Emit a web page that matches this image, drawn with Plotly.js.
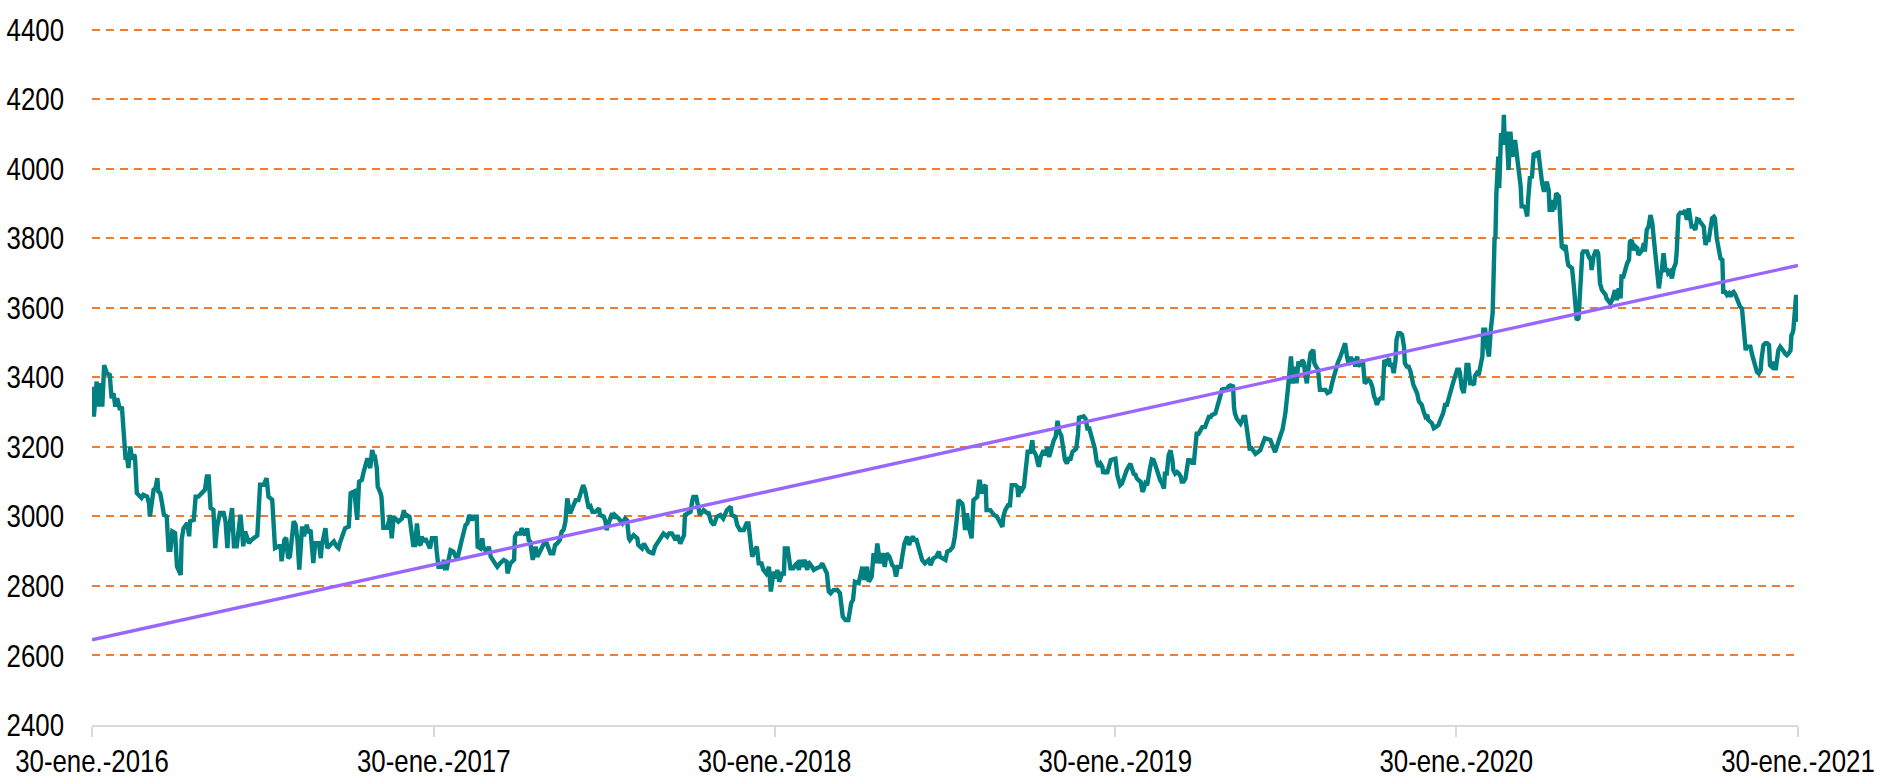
<!DOCTYPE html>
<html>
<head>
<meta charset="utf-8">
<script src="https://cdn.plot.ly/plotly-3.0.1.min.js"></script>
<style>
  html, body { margin: 0; padding: 0; background: #ffffff; }
  #chart { width: 1877px; height: 779px; }
</style>
</head>
<body>
<div id="chart"></div>
<script>
// ---- DATA ----
const startDate = '2016-01-30';
// days elapsed since startDate for each observation
const dayOffsets = [
0,2,5,7,9,11,13,16,19,21,23,25,27,30,32,34,36,37,39,41,43,45,46,48,50,53,55,59,61,62,64,66,68,70,71,73,75,77,80,82,84,86,89,91,95,96,98,102,104,105,109,111,114,118,121,123,125,127,130,132,134,137,141,143,145,146,150,152,155,159,161,162,164,168,171,175,177,180,184,187,189,193,195,196,200,202,203,206,208,210,212,216,218,220,222,225,227,230,232,234,237,239,243,245,246,250,252,255,259,262,264,266,268,271,275,277,281,284,286,289,291,294,295,298,300,302,303,305,306,309,
310,312,316,318,319,321,323,326,328,332,334,335,337,340,343,344,346,348,350,352,353,355,357,360,362,364,368,369,371,375,377,378,380,384,387,391,393,396,400,402,404,407,409,412,413,416,418,419,423,425,427,430,434,437,441,444,445,448,452,453,455,459,460,464,466,468,469,472,475,477,480,484,487,491,494,496,498,501,503,505,507,509,512,515,518,521,524,526,528,532,534,536,539,543,544,548,550,551,555,557,559,560,564,566,568,571,573,575,576,580,584,585,589,591,593,596,600,601,603,605,609,612,616,
618,621,625,627,630,634,635,638,641,643,644,647,650,651,655,659,660,663,666,669,673,676,680,684,685,689,691,694,698,701,703,705,707,709,712,714,717,719,722,725,727,730,732,734,736,739,741,742,745,748,751,753,755,757,759,761,763,766,767,771,773,776,780,782,784,787,789,791,794,798,801,804,807,810,813,815,817,821,825,827,830,832,835,837,839,841,844,846,849,851,854,857,859,861,863,866,868,870,873,875,877,879,881,883,886,889,892,896,898,901,904,907,908,911,914,916,919,922,924,926,928,
932,933,935,937,939,941,942,944,948,950,951,953,955,957,958,962,966,969,971,973,975,976,978,981,983,985,989,991,992,994,996,998,1001,1002,1005,1007,1008,1011,1013,1014,1016,1017,1019,1021,1023,1025,1026,1028,1030,1032,1034,1036,1038,1040,1042,1044,1046,1048,1050,1052,1054,1056,1057,1060,1062,1064,1066,1068,1071,1073,1074,1076,1078,1080,1082,1083,1085,1087,1089,1091,1093,1096,1098,1100,1101,1103,1105,1107,1108,1112,1114,1116,1117,1119,1121,1123,1125,1126,1128,1130,1133,1135,1137,1139,1141,1142,1144,1146,1148,1149,1151,1153,1155,1157,1158,1160,1162,1164,1166,1167,1169,1171,1173,1174,1176,1178,1180,1182,1183,1185,1187,1189,1191,1192,1194,1196,1198,1199,1203,1205,1207,1208,1210,1212,1216,1217,1219,1222,1223,1224,1226,1228,1230,1232,1233,1235,1237,1239,1240,
1241,1246,1251,1256,1262,1267,1273,1275,1278,1280,1281,1284,1286,1289,1290,1292,1294,1296,1298,1299,1301,1303,1305,1308,1309,1311,1313,1315,1317,1321,1323,1326,1328,1330,1333,1334,1337,1340,1342,1344,1346,1348,1349,1351,1353,1355,1356,1358,1361,1363,1365,1367,1369,1371,1373,1374,1376,1378,1380,1382,1384,1386,1389,1390,1392,1394,1396,1397,1399,1401,1403,1405,1406,1408,1410,1412,1415,1419,1421,1423,1424,1426,1428,1430,1431,1435,1437,1440,1442,1444,1447,1449,1451,1453,1455,1456,1458,1460,1462,1464,1465,1467,1469,1471,1472,1474,1476,1478,1480,1481,1483,1485,1487,1489,1490,1492,1494,1496,1498,1499,1500,1502,1503,1504,1505,1506,1507,1509,1511,1512,1513,1515,1517,1519,1521,1522,1524,1526,1528,1530,1531,1533,1535,1537,1538,1540,1542,1544,1546,1547,1549,1551,
1553,1555,1556,1558,1560,1561,1564,1565,1566,1568,1571,1572,1574,1576,1578,1580,1581,1583,1585,1587,1589,1590,1592,1594,1596,1597,1601,1603,1605,1606,1608,1610,1612,1613,1615,1617,1619,1621,1622,1624,1626,1628,1630,1631,1633,1635,1637,1638,1640,1642,1644,1646,1647,1649,1651,1653,1655,1656,1658,1660,1662,1663,1665,1667,1669,1671,1672,1674,1676,1678,1680,1681,1683,1685,1687,1688,1690,1692,1694,1696,1697,1699,1701,1705,1706,1708,1710,1712,1713,1715,1717,1719,1721,1722,1724,1726,1728,1730,1731,1733,1735,1737,1738,1740,1742,1744,1746,1747,1749,1751,1753,1755,1756,1758,1760,1762,1763,1765,1767,1769,1771,1772,1774,1776,1778,1780,1781,1783,1785,1787,1788,1790,1792,1794,1796,1797,1799,1801,1803,1804,1806,1808,1810,1812,1813,1815,1817,1819,1820,1821,1822,1823,1825,1826,1827
];
// USD/COP exchange rate
const rateValues = [
3373,3287,3388,3316,3383,3316,3435,3411,3407,3340,3354,3316,3340,3306,3316,3220,3163,3182,3139,3201,3163,3177,3172,3067,3062,3053,3062,3057,3038,3000,3038,3077,3081,3110,3072,3067,3038,3005,3000,2904,2904,2957,2952,2856,2832,2933,2966,2981,2943,2986,2990,3057,3057,3067,3077,3115,3115,3024,3019,2909,2971,3010,3010,2986,2909,2952,3024,2914,2914,3005,2952,2914,2957,2923,2933,2943,2945,3091,3091,3110,3057,3048,2962,2909,2914,2914,2871,2933,2938,2880,2885,2986,2976,2933,2847,2971,2943,2976,2952,2962,2866,2923,2923,2880,2914,2966,2909,2919,2928,2914,2909,2928,2943,2966,2971,3067,3072,2990,3100,3105,3129,3153,3167,3139,3191,3172,3172,3139,3086,3067,
3056,2967,2967,2985,3004,2937,2999,2991,2985,2994,3018,2999,3004,2999,2942,2918,2918,2980,2922,2918,2942,2927,2937,2922,2908,2937,2937,2903,2855,2855,2875,2851,2851,2903,2899,2875,2894,2932,2975,2980,3004,2989,2999,2999,2913,2908,2937,2913,2894,2913,2884,2870,2855,2865,2875,2870,2836,2865,2875,2942,2951,2951,2966,2946,2966,2927,2932,2875,2913,2884,2899,2922,2922,2894,2894,2918,2922,2932,2956,2961,2985,3052,3009,3028,3047,3047,3080,3090,3076,3023,3028,3013,3013,3023,3004,3000,2985,2961,2994,3009,2994,3004,2994,2989,2980,2994,2989,2937,2932,2946,2937,2918,2908,2922,2913,2899,2894,2894,2913,2922,2942,2951,2942,
2951,2951,2932,2946,2922,2946,3004,3009,3013,3047,3056,3056,3018,3004,3018,3009,3013,2985,2975,2999,3004,2994,3018,3028,3004,2999,2975,2961,2961,2980,2980,2927,2884,2899,2913,2865,2865,2846,2836,2855,2784,2841,2822,2846,2812,2836,2836,2908,2908,2851,2851,2860,2865,2846,2875,2855,2875,2846,2870,2855,2846,2851,2855,2865,2851,2836,2784,2779,2788,2789,2779,2712,2702,2702,2750,2760,2812,2808,2855,2817,2855,2812,2827,2894,2865,2922,2865,2894,2855,2894,2884,2860,2855,2827,2855,2855,2889,2922,2942,2918,2932,2942,2932,2932,2903,2875,2865,2875,2860,2879,2884,2899,2884,2879,2875,2899,2903,2913,2942,2990,3047,
3037,3023,2961,3009,2970,2951,2937,3047,3056,3100,3100,3066,3085,3090,3018,3018,3004,3000,2989,2985,2970,2999,3018,3032,3032,3090,3090,3085,3056,3085,3076,3085,3176,3186,3186,3219,3190,3176,3152,3143,3171,3176,3190,3176,3200,3171,3186,3200,3219,3229,3275,3243,3233,3195,3162,3152,3166,3166,3186,3190,3195,3238,3284,3286,3288,3281,3253,3253,3219,3205,3195,3157,3143,3152,3143,3123,3133,3123,3143,3162,3164,3166,3119,3104,3090,3095,3109,3123,3133,3152,3138,3119,3123,3109,3104,3100,3071,3076,3095,3090,3138,3164,3162,3143,3133,3123,3104,3095,3080,3123,3123,3176,3190,3162,3133,3123,3128,3123,3114,3100,3100,3109,3157,3162,3162,3154,3154,3233,3238,3238,3248,3257,3257,3257,3272,3286,3286,3291,3296,3315,3324,3343,3365,3367,3367,3374,3377,3374,3315,3296,3281,3272,3267,3277,3286,3286,3238,3200,3190,
3200,3180,3190,3225,3220,3185,3235,3250,3297,3335,3374,3460,3383,3431,3383,3446,3431,3450,3441,3412,3383,3431,3470,3479,3441,3431,3422,3364,3364,3364,3355,3359,3383,3403,3436,3441,3460,3479,3498,3460,3436,3460,3441,3455,3431,3460,3431,3439,3450,3383,3388,3393,3388,3374,3345,3340,3321,3335,3340,3340,3450,3441,3455,3431,3441,3412,3450,3508,3527,3527,3522,3489,3441,3431,3431,3417,3379,3355,3331,3326,3321,3302,3287,3292,3278,3268,3254,3259,3263,3278,3297,3321,3321,3340,3355,3369,3388,3403,3422,3422,3412,3369,3355,3398,3436,3436,3383,3383,3379,3403,3412,3407,3431,3460,3537,3537,3489,3460,3537,3580,3585,3796,3805,3930,4031,4035,3944,4103,4074,4155,4069,4107,3997,4107,4035,4045,4083,4035,4007,3949,3892,3892,3887,3863,3911,3978,3973,4045,4040,4045,4047,3997,
3958,3934,3949,3963,3939,3882,3882,3910,3882,3930,3920,3853,3776,3771,3781,3738,3723,3718,3714,3661,3594,3565,3570,3680,3757,3762,3762,3747,3738,3709,3747,3762,3762,3757,3670,3651,3646,3637,3627,3618,3613,3622,3642,3651,3622,3656,3627,3690,3690,3714,3728,3738,3790,3795,3766,3776,3771,3752,3762,3766,3786,3762,3824,3834,3867,3843,3814,3762,3728,3656,3699,3704,3757,3709,3709,3699,3704,3685,3714,3728,3757,3867,3874,3872,3882,3853,3886,3843,3834,3834,3824,3855,3853,3848,3843,3834,3781,3800,3790,3838,3858,3862,3858,3800,3776,3742,3738,3646,3646,3637,3642,3632,3642,3646,3637,3622,3613,3603,3598,3546,3478,3488,3488,3488,3464,3440,3430,3416,3411,3421,3454,3493,3498,3498,3493,3435,3430,3445,3421,3450,3478,3488,3483,3474,3469,3464,3469,3478,3522,3526,3536,3574,3637,3584,3560
];
// linear trend line, read at both ends of the period
const trendDates = ['2016-01-30', '2021-01-30'];
const trendValues = [2645, 3722];
// x-axis ticks
const tickDates = ['2016-01-30', '2017-01-30', '2018-01-30', '2019-01-30', '2020-01-30', '2021-01-30'];
const tickLabels = ['30-ene.-2016', '30-ene.-2017', '30-ene.-2018', '30-ene.-2019', '30-ene.-2020', '30-ene.-2021'];
const yTickValues = [2400, 2600, 2800, 3000, 3200, 3400, 3600, 3800, 4000, 4200, 4400];

// ---- build ----
const base = Date.parse(startDate + 'T00:00:00Z');
const rateDates = dayOffsets.map(d => new Date(base + d * 86400000).toISOString().slice(0, 10));

const FONT = '"Liberation Sans", Arial, sans-serif';
const FSIZE = 31.5;
const NARROW = 0.82; // the reference uses a narrow (Arial Narrow-like) face
const XLABEL_LIFT = 3; // keep the date labels' text box inside the page

const traces = [
  {
    x: rateDates, y: rateValues, type: 'scatter', mode: 'lines',
    line: { color: '#008080', width: 4.4, shape: 'linear' },
    hoverinfo: 'skip', showlegend: false
  },
  {
    x: trendDates, y: trendValues, type: 'scatter', mode: 'lines',
    line: { color: '#9966FF', width: 3.4 },
    hoverinfo: 'skip', showlegend: false
  }
];

const layout = {
  width: 1877, height: 779,
  margin: { l: 92, r: 79, t: 27.5, b: 54 },
  paper_bgcolor: '#ffffff', plot_bgcolor: '#ffffff',
  showlegend: false,
  font: { family: FONT, size: FSIZE, color: '#000000' },
  xaxis: {
    type: 'date',
    range: [tickDates[0], tickDates[tickDates.length - 1]],
    tickmode: 'array', tickvals: tickDates, ticktext: tickLabels,
    ticks: 'outside', ticklen: 10, tickwidth: 2, tickcolor: '#d9d9d9',
    showline: true, linecolor: '#d9d9d9', linewidth: 2,
    showgrid: false, zeroline: false,
    ticklabeloverflow: 'allow',
    tickfont: { family: FONT, size: FSIZE, color: '#000000' },
    fixedrange: true
  },
  yaxis: {
    range: [2400, 4405],
    tickmode: 'array', tickvals: yTickValues,
    ticks: '', showline: false, zeroline: false,
    showgrid: true, gridcolor: '#ED7D31', gridwidth: 2, griddash: '8px,6px',
    ticklabelstandoff: 27,
    ticklabeloverflow: 'allow',
    tickfont: { family: FONT, size: FSIZE, color: '#000000' },
    fixedrange: true
  },
  hovermode: false
};

function condenseTickLabels(gd) {
  gd.querySelectorAll('.xtick text, .ytick text').forEach(t => {
    const x = parseFloat(t.getAttribute('x')) || 0;
    const y = parseFloat(t.getAttribute('y')) || 0;
    const lift = t.closest('.xtick') ? XLABEL_LIFT : 0;
    const tr = t.getAttribute('transform') || '';
    t.setAttribute('transform',
      tr + ' translate(' + x + ',' + (y - lift) + ') scale(' + NARROW + ',1) translate(' + (-x) + ',' + (-y) + ')');
  });
}

Plotly.newPlot('chart', traces, layout, { displayModeBar: false, staticPlot: true })
  .then(gd => condenseTickLabels(gd));
</script>
</body>
</html>
